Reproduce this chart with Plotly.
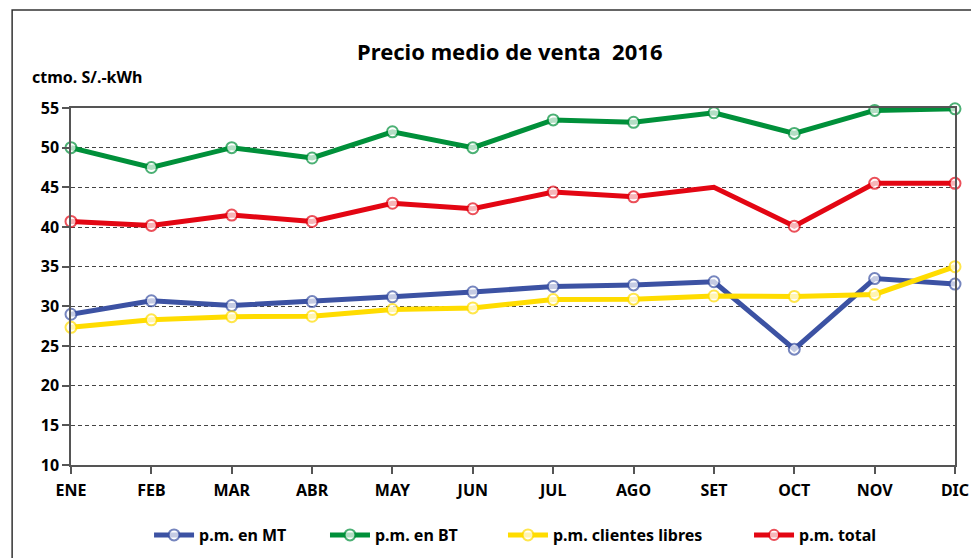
import plotly.graph_objects as go

months = ["ENE", "FEB", "MAR", "ABR", "MAY", "JUN", "JUL", "AGO", "SET", "OCT", "NOV", "DIC"]
pm_mt = [29.0, 30.7, 30.1, 30.6, 31.2, 31.8, 32.5, 32.7, 33.1, 24.6, 33.5, 32.8]
pm_bt = [50.0, 47.5, 50.0, 48.7, 52.0, 50.0, 53.5, 53.2, 54.4, 51.8, 54.7, 54.9]
pm_libres = [27.35, 28.3, 28.7, 28.75, 29.6, 29.8, 30.85, 30.9, 31.3, 31.25, 31.5, 35.0]
pm_total = [40.7, 40.2, 41.5, 40.7, 43.0, 42.3, 44.4, 43.8, 45.0, 40.1, 45.5, 45.5]
y_ticks = [10, 15, 20, 25, 30, 35, 40, 45, 50, 55]

series = [
    ("p.m. en MT", pm_mt, "#3c52a3", "legend", 0.1535),
    ("p.m. en BT", pm_bt, "#00903a", "legend2", 0.3347),
    ("p.m. clientes libres", pm_libres, "#ffdc00", "legend3", 0.518),
    ("p.m. total", pm_total, "#e30613", "legend4", 0.7714),
]

FONT = "Noto Sans"
fig = go.Figure()
legends = {}
for name, vals, col, lg, lx in series:
    sizes = [11] * len(vals)
    if name == "p.m. total":
        sizes[8] = 0
    fig.add_trace(go.Scatter(
        x=months, y=vals, name=name, mode="lines+markers", legend=lg,
        line=dict(color=col, width=5),
        marker=dict(size=sizes, color="white", line=dict(color=col, width=2)),
        cliponaxis=False, showlegend=True,
    ))
    legends[lg] = dict(orientation="h", x=lx, xref="container", xanchor="left",
                       y=0.0412, yref="container", yanchor="middle",
                       font=dict(size=16, family=FONT, color="black", weight="bold"),
                       itemwidth=40, bgcolor="rgba(0,0,0,0)")

fig.update_layout(
    width=971, height=558,
    margin=dict(l=71, r=16, t=108, b=93),
    paper_bgcolor="white", plot_bgcolor="white",
    font=dict(family=FONT, color="black"),
    title=dict(text="<b>Precio medio de venta&nbsp;&nbsp;2016</b>", x=0.525, xref="container",
               y=0.907, yref="container", xanchor="center", yanchor="middle",
               font=dict(size=22, family=FONT, color="black")),
    showlegend=True,
    xaxis=dict(type="category", range=[0, 11], showgrid=False, zeroline=False,
               showline=True, linecolor="#555", linewidth=1.5, mirror=True,
               ticks="outside", ticklen=7, tickcolor="#555", tickwidth=1.5,
               tickfont=dict(size=16, family=FONT, color="black", weight="bold"),
               ticklabelstandoff=3, automargin=False),
    yaxis=dict(range=[10, 55], tickvals=y_ticks, showgrid=True, gridcolor="#444",
               griddash="4px,3px", gridwidth=1, zeroline=False,
               showline=True, linecolor="#555", linewidth=1.5, mirror=True,
               ticks="outside", ticklen=7, tickcolor="#555", tickwidth=1.5,
               tickfont=dict(size=16, family=FONT, color="black", weight="bold"),
               automargin=False),
    annotations=[dict(text="<b>ctmo. S/.-kWh</b>", xref="paper", yref="paper",
                      x=-0.046, y=1.087, xanchor="left", yanchor="middle", showarrow=False,
                      font=dict(size=16, family=FONT, color="black"))],
    shapes=[dict(type="rect", xref="paper", yref="paper", x0=-0.0666, x1=1.3,
                 y0=-0.6, y1=1.2745, line=dict(color="#333", width=1.5),
                 fillcolor="rgba(0,0,0,0)", layer="below")],
    **legends,
)

fig.write_html("out.html", config={"displayModeBar": False},
               post_script="document.body.style.margin='0';document.body.style.overflow='hidden';")
